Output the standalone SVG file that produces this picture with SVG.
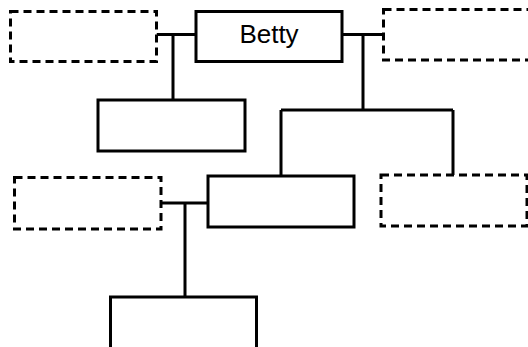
<svg xmlns="http://www.w3.org/2000/svg" width="528" height="347" viewBox="0 0 528 347">
<style>
.box{fill:#fff;stroke:#000;stroke-width:3}
.dash{fill:#fff;stroke:#000;stroke-width:3;stroke-dasharray:8 5}
.conn{fill:none;stroke:#000;stroke-width:3}
.lbl{font-family:"Liberation Sans",Arial,sans-serif;font-size:26px;fill:#000;text-anchor:middle}
</style>
<rect width="528" height="347" fill="#fff"/>
<g id="connectors">
<path class="conn" d="M156.5 34.5H196M173 34.5V100"/>
<path class="conn" d="M342 34.5H383.5M363 34.5V110M281 110H453M281 110V176M453 110V175"/>
<path class="conn" d="M161 203H208M185 203V297"/>
</g>
<g id="spouse-top-left"><rect class="dash" x="10.5" y="11.5" width="146" height="50"/></g>
<g id="betty"><rect class="box" x="196" y="11.5" width="146" height="50"/><text class="lbl" x="269" y="42.5">Betty</text></g>
<g id="spouse-top-right"><rect class="dash" x="383.5" y="9.5" width="160" height="50.5"/></g>
<g id="child-left"><rect class="box" x="98" y="100" width="147" height="51"/></g>
<g id="child-mid"><rect class="box" x="208" y="176" width="146" height="51"/></g>
<g id="child-right"><rect class="dash" x="381" y="175" width="146" height="51"/></g>
<g id="spouse-mid-left"><rect class="dash" x="14.5" y="177.5" width="146.5" height="51.5"/></g>
<g id="grandchild"><rect class="box" x="110.5" y="297" width="146" height="51.5"/></g>
</svg>
